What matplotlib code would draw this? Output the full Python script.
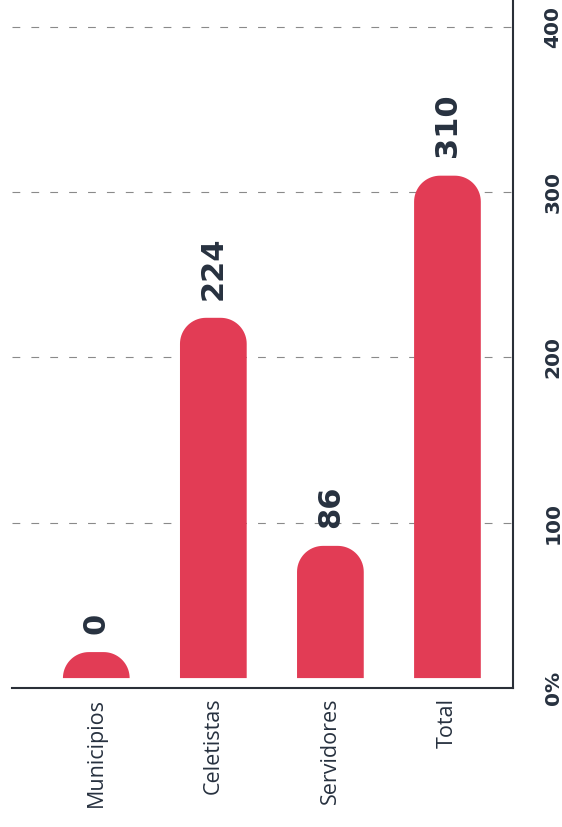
import numpy as np
import matplotlib.pyplot as plt
from matplotlib.patches import Polygon

categories = ["Municipios", "Celetistas", "Servidores", "Total"]
values = [0, 224, 86, 310]
y_ticks = [0, 100, 200, 300, 400]
y_tick_labels = ["0%", "100", "200", "300", "400"]

bar_color = "#e23c55"
text_color = "#27313f"

W, H = 5.62, 8.27
fig = plt.figure(figsize=(W, H), dpi=100)
ax_rect = [12 / 562, 1 - 688 / 827, (513 - 12) / 562, 688 / 827]
ax = fig.add_axes(ax_rect)

xlim = (-0.72, 3.56)
ylim = (0, 416.3)
ax.set_xlim(*xlim)
ax.set_ylim(*ylim)

# pixels per data unit, so the rounded tops stay round
px_x = ax_rect[2] * W * 100 / (xlim[1] - xlim[0])
px_y = ax_rect[3] * H * 100 / (ylim[1] - ylim[0])
radius_px = 26
rx = radius_px / px_x
ry = radius_px / px_y
bar_w = 0.57
base = 6  # bars float a little above the axis line
stub = base + ry  # smallest drawn top, so a zero still shows a dome

for i, v in enumerate(values):
    top = max(v, stub)
    x0, x1 = i - bar_w / 2, i + bar_w / 2
    a1 = np.linspace(0, np.pi / 2, 20)
    a2 = np.linspace(np.pi / 2, np.pi, 20)
    pts = [(x0, base), (x1, base)]
    pts += list(zip(x1 - rx + rx * np.cos(a1), top - ry + ry * np.sin(a1)))
    pts += list(zip(x0 + rx + rx * np.cos(a2), top - ry + ry * np.sin(a2)))
    ax.add_patch(Polygon(pts, closed=True, facecolor=bar_color,
                         edgecolor="none", zorder=3))
    ax.text(i, top + 11, str(v), rotation=90, ha="center", va="bottom",
            fontsize=22, fontweight="bold", color=text_color,
            family="DejaVu Sans")

ax.set_yticks(y_ticks)
ax.yaxis.tick_right()
ax.set_yticklabels(y_tick_labels, rotation=90, va="center",
                   fontsize=14.5, fontweight="bold", color=text_color,
                   family="DejaVu Sans")
ax.tick_params(axis="y", length=0, pad=22)

ax.set_xticks(range(len(categories)))
ax.set_xticklabels(categories, rotation=90, ha="center", va="top",
                   fontsize=15.5, color=text_color, family="Open Sans")
ax.tick_params(axis="x", length=0, pad=7)

ax.yaxis.grid(True, linestyle=(0, (7, 10)), color="#8a8a8a", lw=0.8)
ax.set_axisbelow(True)

for s in ["left", "top"]:
    ax.spines[s].set_visible(False)
for s in ["right", "bottom"]:
    ax.spines[s].set_linewidth(1.5)
    ax.spines[s].set_color("#2a2f38")

fig.savefig("out.png", dpi=100)
